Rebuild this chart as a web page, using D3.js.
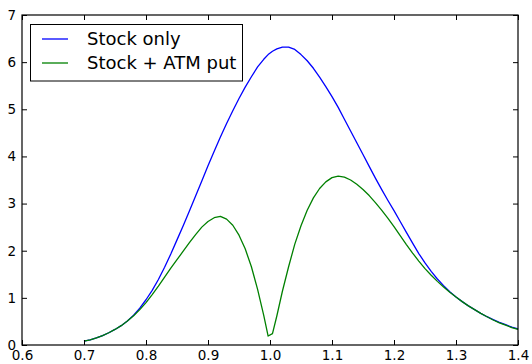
<!DOCTYPE html>
<html>
<head>
<meta charset="utf-8">
<script src="https://cdn.jsdelivr.net/npm/d3@7"></script>
<style>
  html, body { margin: 0; padding: 0; background: #fff; }
  svg { display: block; }
  text { font-family: "DejaVu Sans", sans-serif; fill: #000; }
</style>
</head>
<body>
<svg id="chart" width="532" height="364"></svg>
<script>
const xValues = [0.70,0.71,0.72,0.73,0.74,0.75,0.76,0.77,0.78,0.79,0.80,0.81,0.82,0.83,0.84,0.85,0.86,0.87,0.88,0.89,0.90,0.91,0.92,0.93,0.94,0.95,0.96,0.97,0.98,0.9899,0.9970,1.0040,1.0111,1.02,1.03,1.04,1.05,1.06,1.07,1.08,1.09,1.10,1.11,1.12,1.13,1.14,1.15,1.16,1.17,1.18,1.19,1.20,1.21,1.22,1.23,1.24,1.25,1.26,1.27,1.28,1.29,1.30,1.31,1.32,1.33,1.34,1.35,1.36,1.37,1.38,1.39,1.40];
const stockOnly = [0.08,0.11,0.15,0.20,0.26,0.33,0.41,0.51,0.63,0.78,0.96,1.16,1.39,1.65,1.93,2.23,2.53,2.84,3.16,3.48,3.80,4.11,4.41,4.70,4.97,5.23,5.47,5.69,5.90,6.06,6.16,6.23,6.28,6.32,6.32,6.27,6.16,6.03,5.87,5.68,5.48,5.27,5.04,4.79,4.54,4.29,4.04,3.79,3.54,3.30,3.07,2.85,2.62,2.39,2.16,1.94,1.74,1.56,1.40,1.26,1.13,1.02,0.92,0.83,0.75,0.67,0.60,0.54,0.48,0.43,0.38,0.34];
const stockPut = [0.08,0.11,0.15,0.20,0.26,0.33,0.41,0.51,0.62,0.75,0.90,1.07,1.25,1.44,1.63,1.81,1.99,2.17,2.34,2.50,2.62,2.70,2.73,2.67,2.54,2.33,2.04,1.66,1.18,0.63,0.19,0.24,0.62,1.14,1.66,2.14,2.53,2.86,3.12,3.32,3.46,3.55,3.58,3.56,3.50,3.41,3.30,3.17,3.02,2.86,2.69,2.51,2.32,2.13,1.95,1.78,1.62,1.48,1.35,1.23,1.12,1.02,0.92,0.83,0.75,0.67,0.60,0.53,0.47,0.42,0.37,0.33];
const seriesNames = ["Stock only", "Stock + ATM put"];
const seriesColors = ["#0000ff", "#008000"];
const xTicks = [0.6,0.7,0.8,0.9,1.0,1.1,1.2,1.3,1.4];
const yTicks = [0,1,2,3,4,5,6,7];

const svg = d3.select("#chart");
const L = 22, R = 518, T = 15, B = 345;
const x = d3.scaleLinear().domain([0.6, 1.4]).range([L, R]);
const y = d3.scaleLinear().domain([0, 7]).range([B, T]);
const tickLen = 5;

// series lines
const line = d3.line().x(d => x(d[0])).y(d => y(d[1]));
[stockOnly, stockPut].forEach((vals, i) => {
  svg.append("path")
    .datum(xValues.map((xv, k) => [xv, vals[k]]))
    .attr("d", line)
    .attr("fill", "none")
    .attr("stroke", seriesColors[i])
    .attr("stroke-width", 1.3)
    .attr("stroke-linejoin", "round");
});

// axes (ticks inside)
const fmtX = d => d3.format(".1f")(d);
const gBottom = svg.append("g").attr("transform", `translate(0,${B})`)
  .call(d3.axisBottom(x).tickValues(xTicks).tickFormat(fmtX).tickSizeInner(-tickLen).tickSizeOuter(0).tickPadding(5));
const gTop = svg.append("g").attr("transform", `translate(0,${T})`)
  .call(d3.axisTop(x).tickValues(xTicks).tickFormat("").tickSizeInner(-tickLen).tickSizeOuter(0));
const gLeft = svg.append("g").attr("transform", `translate(${L},0)`)
  .call(d3.axisLeft(y).tickValues(yTicks).tickFormat(d3.format("d")).tickSizeInner(-tickLen).tickSizeOuter(0).tickPadding(6));
const gRight = svg.append("g").attr("transform", `translate(${R},0)`)
  .call(d3.axisRight(y).tickValues(yTicks).tickFormat("").tickSizeInner(-tickLen).tickSizeOuter(0));
[gBottom, gTop, gLeft, gRight].forEach(g => {
  g.select(".domain").remove();
  g.selectAll(".tick line").attr("stroke", "#000").attr("stroke-width", 1);
  g.selectAll("text").style("font-size", "13.5px").attr("fill", "#000");
});

// frame
svg.append("rect").attr("x", L).attr("y", T).attr("width", R - L).attr("height", B - T)
  .attr("fill", "none").attr("stroke", "#000").attr("stroke-width", 1.2);

// legend
const lg = svg.append("g");
lg.append("rect").attr("x", 30.5).attr("y", 24.5).attr("width", 212).attr("height", 56.5)
  .attr("fill", "#fff").attr("stroke", "#000").attr("stroke-width", 1);
seriesNames.forEach((name, i) => {
  const yy = 39 + i * 24;
  lg.append("line").attr("x1", 42).attr("x2", 68).attr("y1", yy).attr("y2", yy)
    .attr("stroke", seriesColors[i]).attr("stroke-width", 1.3);
  lg.append("text").attr("x", 87).attr("y", yy).attr("dy", "0.36em")
    .style("font-size", "18px").text(name);
});
</script>
</body>
</html>
